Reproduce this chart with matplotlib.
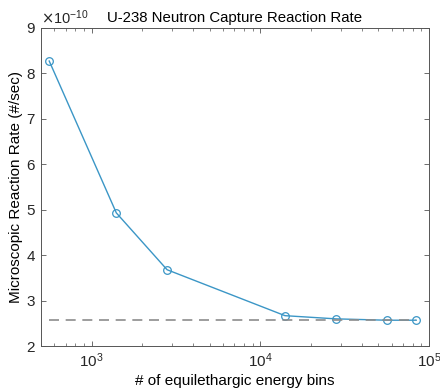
import matplotlib
matplotlib.use("Agg")
import matplotlib.pyplot as plt
import numpy as np
from matplotlib.ticker import ScalarFormatter, LogLocator, NullFormatter

bins = [560, 1400, 2800, 14000, 28000, 56000, 84000]
rate = [8.27e-10, 4.93e-10, 3.68e-10, 2.67e-10, 2.60e-10, 2.57e-10, 2.57e-10]
ref_rate = 2.57e-10

plt.rcParams['font.family'] = ['Liberation Sans', 'DejaVu Sans']

fig = plt.figure(figsize=(4.4, 3.92), dpi=100)
ax = fig.add_axes([0.093, 0.117, 0.882, 0.812])

ax.plot(bins, rate, '-o', color='#3b96c6', lw=1.0, ms=5.5, mfc='none', mew=0.9)
ax.plot([bins[0], bins[-1]], [ref_rate, ref_rate], '--', color='#8c8c8c', lw=1.2, dashes=(6, 4))

ax.set_xscale('log')
ax.set_xlim(500, 1e5)
ax.set_ylim(2e-10, 9e-10)
ax.set_yticks(np.arange(2, 10) * 1e-10)

fmt = ScalarFormatter(useMathText=True)
fmt.set_powerlimits((0, 0))
ax.yaxis.set_major_formatter(fmt)
ax.yaxis.get_offset_text().set_fontsize(10.5)
ax.yaxis.get_offset_text().set_color('#262626')

ax.xaxis.set_minor_locator(LogLocator(base=10, subs=np.arange(2, 10)))
ax.xaxis.set_minor_formatter(NullFormatter())

ax.tick_params(which='both', direction='in', top=True, right=True, color='#555555', labelcolor='#262626', labelsize=11)
ax.tick_params(which='major', length=3.5, width=0.6)
ax.tick_params(which='minor', length=2, width=0.5)
for s in ax.spines.values():
    s.set_color('#555555')
    s.set_linewidth(0.7)

ax.set_title('U-238 Neutron Capture Reaction Rate', fontsize=10.8, pad=4)
ax.set_xlabel('# of equilethargic energy bins', fontsize=11, labelpad=3)
ax.set_ylabel('Microscopic Reaction Rate (#/sec)', fontsize=11, labelpad=2)

fig.savefig('out.png', dpi=100)
